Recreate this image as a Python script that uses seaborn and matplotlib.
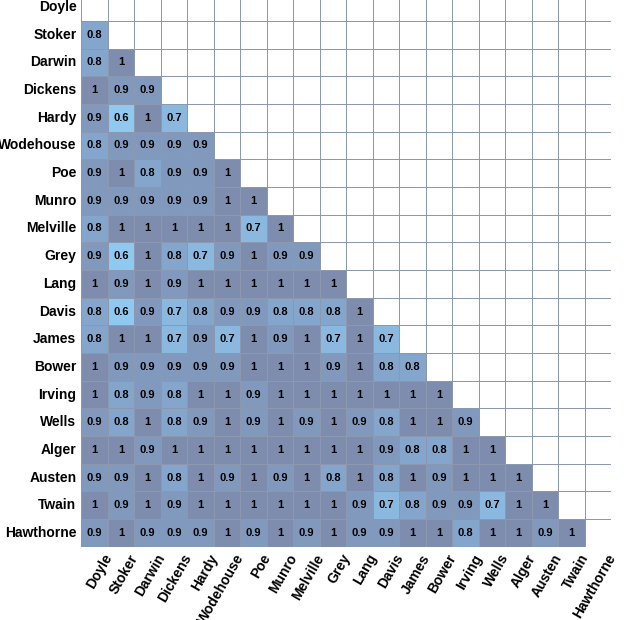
import numpy as np
import pandas as pd
import seaborn as sns
import matplotlib.pyplot as plt
from matplotlib.colors import LinearSegmentedColormap
from matplotlib.transforms import ScaledTranslation

plt.rcParams['font.family'] = ['Liberation Sans', 'DejaVu Sans']

authors = ["Doyle","Stoker","Darwin","Dickens","Hardy","Wodehouse","Poe","Munro","Melville","Grey",
           "Lang","Davis","James","Bower","Irving","Wells","Alger","Austen","Twain","Hawthorne"]
rows = [
 [],
 [0.8],
 [0.8,1],
 [1,0.9,0.9],
 [0.9,0.6,1,0.7],
 [0.8,0.9,0.9,0.9,0.9],
 [0.9,1,0.8,0.9,0.9,1],
 [0.9,0.9,0.9,0.9,0.9,1,1],
 [0.8,1,1,1,1,1,0.7,1],
 [0.9,0.6,1,0.8,0.7,0.9,1,0.9,0.9],
 [1,0.9,1,0.9,1,1,1,1,1,1],
 [0.8,0.6,0.9,0.7,0.8,0.9,0.9,0.8,0.8,0.8,1],
 [0.8,1,1,0.7,0.9,0.7,1,0.9,1,0.7,1,0.7],
 [1,0.9,0.9,0.9,0.9,0.9,1,1,1,0.9,1,0.8,0.8],
 [1,0.8,0.9,0.8,1,1,0.9,1,1,1,1,1,1,1],
 [0.9,0.8,1,0.8,0.9,1,0.9,1,0.9,1,0.9,0.8,1,1,0.9],
 [1,1,0.9,1,1,1,1,1,1,1,1,0.9,0.8,0.8,1,1],
 [0.9,0.9,1,0.8,1,0.9,1,0.9,1,0.8,1,0.8,1,0.9,1,1,1],
 [1,0.9,1,0.9,1,1,1,1,1,1,0.9,0.7,0.8,0.9,0.9,0.7,1,1],
 [0.9,1,0.9,0.9,0.9,1,0.9,1,0.9,1,0.9,0.9,1,1,0.8,1,1,0.9,1],
]
n = len(authors)
M = np.full((n, n), np.nan)
for i, r in enumerate(rows):
    for j, v in enumerate(r):
        M[i, j] = v
df = pd.DataFrame(M, index=authors, columns=authors)
mask = np.isnan(M)

cmap = LinearSegmentedColormap.from_list("c", ["#90c9ef", "#85a6cc", "#7e8dad"])
fig = plt.figure(figsize=(6.4, 6.2), dpi=100)
ax = fig.add_axes([0.127, 0.118, 0.828, 0.893])
sns.heatmap(df, ax=ax, mask=mask, cmap=cmap, vmin=0.6, vmax=1.0, cbar=False, annot=True, fmt="g",
            annot_kws={"fontsize": 8, "fontweight": "bold", "color": "black"},
            linewidths=0.5, linecolor="#8c98b0")
ax.set_xticklabels(authors, rotation=60, ha="right", rotation_mode="anchor", fontweight="bold", fontsize=10)
ax.set_yticklabels(authors, rotation=0, fontweight="bold", fontsize=10)
ax.tick_params(length=0)
for lab in ax.get_xticklabels():
    lab.set_transform(lab.get_transform() + ScaledTranslation(0.08, 0, fig.dpi_scale_trans))
fig.savefig("out.png", dpi=100)
